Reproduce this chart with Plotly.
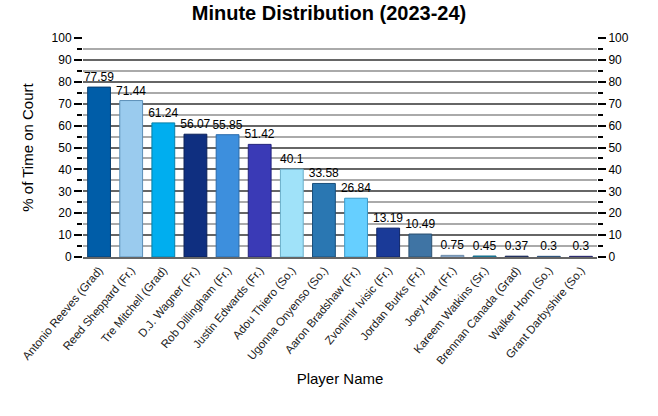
import plotly.graph_objects as go

players = ["Antonio Reeves (Grad)", "Reed Sheppard (Fr.)", "Tre Mitchell (Grad)",
           "D.J. Wagner (Fr.)", "Rob Dillingham (Fr.)", "Justin Edwards (Fr.)",
           "Adou Thiero (So.)", "Ugonna Onyenso (So.)", "Aaron Bradshaw (Fr.)",
           "Zvonimir Ivisic (Fr.)", "Jordan Burks (Fr.)", "Joey Hart (Fr.)",
           "Kareem Watkins (Sr.)", "Brennan Canada (Grad)", "Walker Horn (So.)",
           "Grant Darbyshire (So.)"]
pct = [77.59, 71.44, 61.24, 56.07, 55.85, 51.42, 40.1, 33.58, 26.84,
       13.19, 10.49, 0.75, 0.45, 0.37, 0.3, 0.3]
colors = ["#005DA8", "#9ACBEE", "#00AEEF", "#0F2F80", "#3D8FDD", "#3A3AB6",
          "#A0E2F9", "#2A77B2", "#66CFFF", "#1A3A98", "#3F74A4", "#9DBCDD",
          "#1F90B5", "#2A3F80", "#3F70A8", "#3A3A9A"]
edges = ["#0A3F70", "#5B8FB8", "#0780A8", "#0A2058", "#2A6AAA", "#22227A",
         "#6AAECA", "#1A4F7A", "#3A9ACA", "#10266A", "#2A5070", "#6A8AAA",
         "#156A88", "#1A2A58", "#2A4F78", "#26266A"]
labels = [str(v) for v in pct]
font = "Liberation Sans, Arial, sans-serif"

fig = go.Figure()
fig.add_trace(go.Bar(
    x=players, y=pct, text=labels, textposition="outside",
    textfont=dict(size=12, color="#000"), constraintext="none",
    marker=dict(color=colors, line=dict(color=edges, width=1)),
    cliponaxis=False, showlegend=False,
))
fig.add_trace(go.Scatter(x=[players[0]], y=[0], yaxis="y2", mode="markers",
                         marker=dict(opacity=0), showlegend=False, hoverinfo="skip"))

yax = dict(range=[0, 100], dtick=10, tick0=0, ticks="outside", ticklen=8,
           tickwidth=2, tickcolor="#000", automargin=False,
           tickfont=dict(size=12, color="#000", family=font),
           showgrid=True, gridcolor="#666666", gridwidth=2,
           zeroline=False, showline=False, fixedrange=True,
           minor=dict(dtick=5, ticks="outside", ticklen=5, tickwidth=2,
                      tickcolor="#000", showgrid=True, gridcolor="#AAAAAA",
                      gridwidth=2))

fig.update_layout(
    width=658, height=416,
    margin=dict(l=83, r=61, t=38, b=159),
    paper_bgcolor="white", plot_bgcolor="white",
    font=dict(family=font, color="#000"),
    title=dict(text="<b>Minute Distribution (2023-24)</b>", x=0.5, xanchor="center",
               y=0.985, yanchor="top", font=dict(size=20, family=font, color="#000")),
    bargap=0.29,
    xaxis=dict(title=dict(text="Player Name", font=dict(size=15, family=font), standoff=8),
               tickangle=-50, tickfont=dict(size=11.5, family=font, color="#222"),
               showline=True, linecolor="#666666", linewidth=2, ticks="",
               range=[-0.5, 15.5], mirror=False, automargin=False, fixedrange=True),
    yaxis=dict(title=dict(text="% of Time on Court", font=dict(size=15, family=font), standoff=14),
               **yax),
    yaxis2=dict(overlaying="y", side="right", anchor="x", showgrid=False,
                **{k: v for k, v in yax.items() if k not in ("showgrid", "gridcolor", "gridwidth", "minor")},
                minor=dict(dtick=5, ticks="outside", ticklen=5, tickwidth=2,
                           tickcolor="#000", showgrid=False)),
)

fig.write_html("out.html", config={"displayModeBar": False},
               post_script="document.body.style.margin='0';")
